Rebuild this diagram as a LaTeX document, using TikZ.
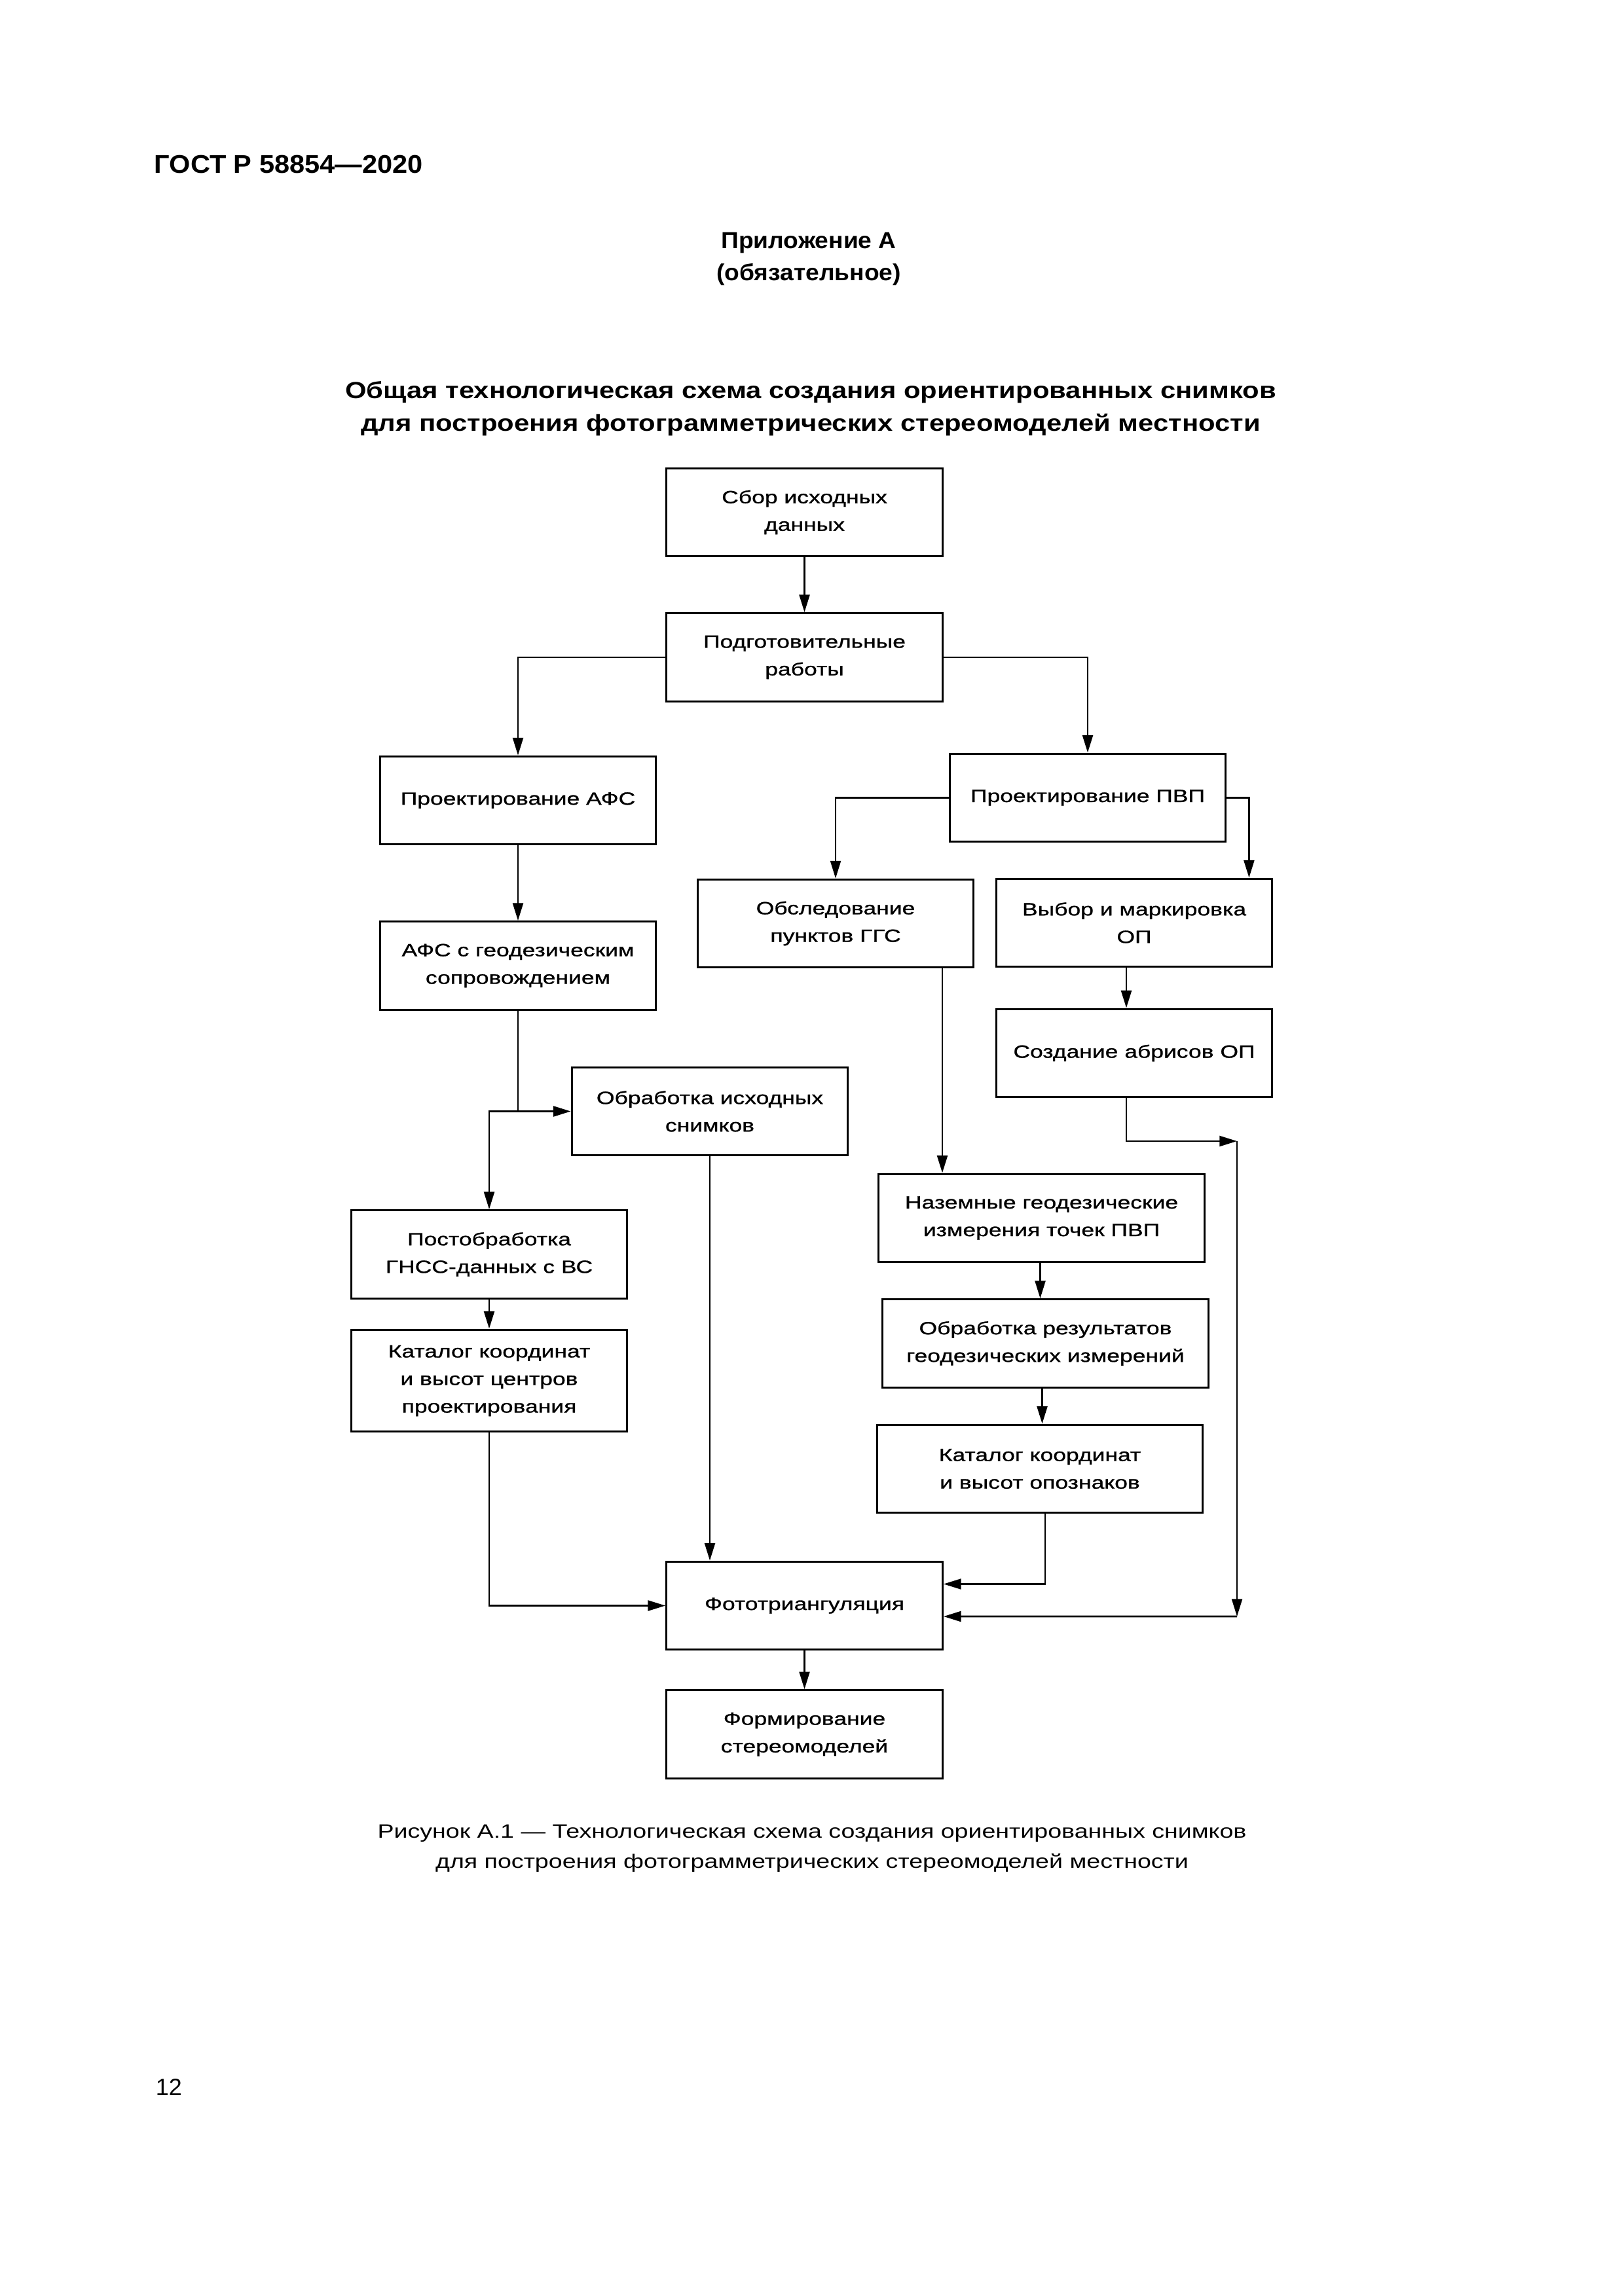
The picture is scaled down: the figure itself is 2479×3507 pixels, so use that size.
\documentclass[tikz,border=0pt]{standalone}
\usepackage{fontspec}
\setmainfont{Liberation Sans}
\newfontfamily\boxfam[FakeStretch=1.31,FakeBold=1]{Liberation Sans}
\newfontfamily\capfam[FakeStretch=1.27]{Liberation Sans}
\newfontfamily\titfam[FakeStretch=1.18]{Liberation Sans}
\newfontfamily\prlfam[FakeStretch=1.05]{Liberation Sans}
\newfontfamily\gstfam[FakeStretch=1.06]{Liberation Sans}
\usetikzlibrary{arrows.meta,calc}
\newcommand\bxf{\boxfam\fontsize{6.5}{10.1}\selectfont}
\begin{document}
\begin{tikzpicture}[x=0.24pt,y=-0.24pt,
  blk/.style={draw, line width=0.75pt, align=center, inner sep=0pt, font=\bxf,
              minimum width=101.2pt, minimum height=32.3pt},
  wide/.style={minimum width=119.4pt},
  arr/.style={line width=0.65pt, -{Triangle[length=6.4pt,width=3.8pt]}},
  txt/.style={inner sep=0pt, anchor=base}]
\fill[white] (0,0) rectangle (2479,3507);
\useasboundingbox (0,0) rectangle (2479,3507);

% page texts
\node[txt, anchor=base west, font=\gstfam\bfseries\fontsize{9.4}{11}\selectfont] (gost) at (235,265) {ГОСТ Р 58854—2020};
\node[txt, font=\prlfam\bfseries\fontsize{8.5}{10}\selectfont] (pril) at (1235,380) {Приложение А};
\node[txt, font=\prlfam\bfseries\fontsize{8.5}{10}\selectfont] (obyaz) at (1235,429) {(обязательное)};
\node[txt, font=\titfam\bfseries\fontsize{8.5}{10}\selectfont] (t1) at (1238,609) {Общая технологическая схема создания ориентированных снимков};
\node[txt, font=\titfam\bfseries\fontsize{8.5}{10}\selectfont] (t2) at (1238,659) {для построения фотограмметрических стереомоделей местности};
\node[txt, font=\capfam\fontsize{7.1}{9}\selectfont] (c1t) at (1240,2807) {Рисунок А.1 — Технологическая схема создания ориентированных снимков};
\node[txt, font=\capfam\fontsize{7.1}{9}\selectfont] (c2t) at (1240,2853) {для построения фотограмметрических стереомоделей местности};
\node[txt, anchor=base west, font=\fontsize{8.6}{10}\selectfont] (pg) at (237,3200) {12};

% boxes
\node[blk] (sbor) at (1228.5,782.5) {Сбор исходных\\данных};
\node[blk] (podg) at (1228.5,1004) {Подготовительные\\работы};
\node[blk] (afs) at (791,1222.5) {Проектирование АФС};
\node[blk] (pvp) at (1661,1218.5) {Проектирование ПВП};
\node[blk] (obsl) at (1276,1410.5) {Обследование\\пунктов ГГС};
\node[blk] (vybor) at (1732,1409.5) {Выбор и маркировка\\ОП};
\node[blk] (afsgeo) at (791,1475) {АФС с геодезическим\\сопровождением};
\node[blk] (sozd) at (1732,1608.5) {Создание абрисов ОП};
\node[blk] (obrab) at (1084,1697.5) {Обработка исходных\\снимков};
\node[blk, wide] (nazem) at (1590.5,1860.5) {Наземные геодезические\\измерения точек ПВП};
\node[blk] (post) at (747,1916) {Постобработка\\ГНСС-данных с ВС};
\node[blk, wide] (obrrez) at (1596.5,2052) {Обработка результатов\\геодезических измерений};
\node[blk, minimum height=37.4pt] (katc) at (747,2109) {Каталог координат\\и высот центров\\проектирования};
\node[blk, wide] (katop) at (1588,2243.5) {Каталог координат\\и высот опознаков};
\node[blk] (foto) at (1228.5,2452.5) {Фототриангуляция};
\node[blk] (form) at (1228.5,2649) {Формирование\\стереомоделей};

% helper coordinates
\coordinate (pv1) at ($(pvp.east)+(34,0)$);
\coordinate (vb1) at ($(vybor.south)+(-12,0)$);
\coordinate (sz1) at ($(sozd.south)+(-12,0)$);
\coordinate (ob1) at ($(obsl.south)+(163,0)$);
\coordinate (nz1) at ($(nazem.south)+(-2,0)$);
\coordinate (or1) at ($(obrrez.south)+(-5,0)$);
\coordinate (kp1) at ($(katop.south)+(8,0)$);
\coordinate (kp2) at ($(foto.east)+(0,-33)$);
\coordinate (cr1) at (1889,1743);
\coordinate (cr2) at (1889,2469);
\coordinate (fe2) at ($(foto.east)+(0,16.5)$);
\coordinate (jn) at (afsgeo.south |- obrab.west);

% connectors
\draw[arr] (sbor) -- (podg);
\draw[arr] (podg.west) -| (afs.north);
\draw[arr] (podg.east) -| (pvp.north);
\draw[arr] (pvp.west) -| (obsl.north);
\draw[arr] (pvp.east) -- (pv1) -- (pv1 |- vybor.north);
\draw[arr] (afs) -- (afsgeo);
\draw[arr] (afsgeo.south) |- (obrab.west);
\draw[arr] (jn) -| (post.north);
\draw[arr] (post) -- (katc);
\draw[arr] (katc.south) |- (foto.west);
\draw[arr] (obrab.south) -- (obrab.south |- foto.north);
\draw[arr] (ob1) -- (ob1 |- nazem.north);
\draw[arr] (nz1) -- (nz1 |- obrrez.north);
\draw[arr] (or1) -- (or1 |- katop.north);
\draw[arr] (kp1) |- (kp2);
\draw[arr] (vb1) -- (vb1 |- sozd.north);
\draw[arr] (sz1) |- (cr1);
\draw[arr] (cr1) -- (cr2);
\draw[arr] (cr2) -- (fe2);
\draw[arr] (foto) -- (form);
\end{tikzpicture}
\end{document}
